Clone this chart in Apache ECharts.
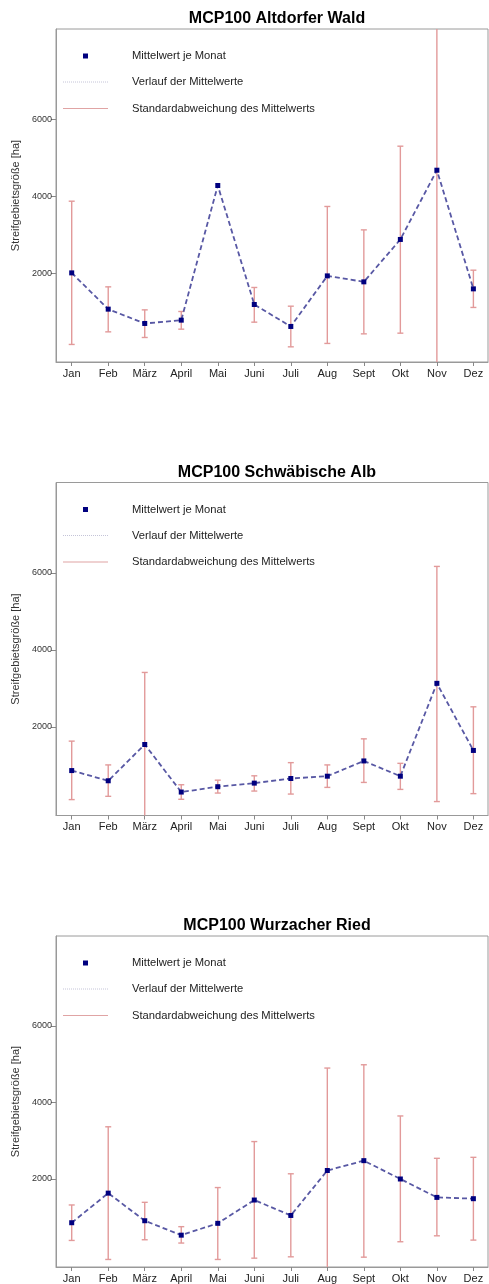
<!DOCTYPE html>
<html>
<head>
<meta charset="utf-8">
<script src="https://cdn.jsdelivr.net/npm/echarts@6/dist/echarts.min.js"></script>
<style>
  html, body { margin: 0; padding: 0; background: #fff; }
  #chart { width: 489px; height: 1284px; }
</style>
</head>
<body>
<div id="chart"></div>
<script>
const months = ['Jan', 'Feb', 'März', 'April', 'Mai', 'Juni', 'Juli', 'Aug', 'Sept', 'Okt', 'Nov', 'Dez']
const titles = ['MCP100 Altdorfer Wald', 'MCP100 Schwäbische Alb', 'MCP100 Wurzacher Ried']
const yTicks = [2000, 4000, 6000]

// Altdorfer Wald
const altdorfMean = [2015, 1073, 701, 787, 4285, 1194, 623, 1937, 1782, 2883, 4682, 1600]
const altdorfLow = [156, 483, 337, 553, null, 735, 94, 182, 431, 449, -720, 1117]
const altdorfHigh = [3877, 1652, 1054, 1012, null, 1636, 1150, 3740, 3132, 5306, 10080, 2085]
// Schwäbische Alb
const albMean = [867, 602, 1545, 309, 448, 541, 661, 721, 1117, 721, 3133, 1390]
const albLow = [113, 198, -330, 121, 283, 335, 257, 430, 559, 378, 62, 268]
const albHigh = [1632, 1014, 3416, 499, 618, 731, 1073, 1014, 1691, 1055, 6170, 2523]
// Wurzacher Ried
const riedMean = [857, 1630, 909, 532, 841, 1450, 1047, 2222, 2479, 2000, 1519, 1485]
const riedLow = [394, -103, 412, 326, -103, -69, -34, -455, -43, 360, 515, 403]
const riedHigh = [1321, 3364, 1390, 754, 1776, 2978, 2136, 4899, 4985, 3647, 2540, 2566]

const panels = [
  { mean: altdorfMean, low: altdorfLow, high: altdorfHigh },
  { mean: albMean, low: albLow, high: albHigh },
  { mean: riedMean, low: riedLow, high: riedHigh }
]

const gridTops = [29, 482.5, 936]
const font = '"Liberation Sans", Arial, sans-serif'
const monthPos = months.map((m, i) => i + 1)
const errColor = '#e29a9a'

const mychart = echarts.init(document.getElementById('chart'))

const renderErr = (params, api) => {
  const x = api.value(0)
  const lo = api.coord([x, api.value(1)])
  const hi = api.coord([x, api.value(2)])
  const cs = params.coordSys
  const top = cs.y
  const bot = cs.y + cs.height
  const style = { stroke: errColor, lineWidth: 1.4 }
  const children = [
    { type: 'line', shape: { x1: lo[0], y1: Math.min(lo[1], bot), x2: lo[0], y2: Math.max(hi[1], top) }, style }
  ]
  if (hi[1] >= top) children.push({ type: 'line', shape: { x1: hi[0] - 3, y1: hi[1], x2: hi[0] + 3, y2: hi[1] }, style })
  if (lo[1] <= bot) children.push({ type: 'line', shape: { x1: lo[0] - 3, y1: lo[1], x2: lo[0] + 3, y2: lo[1] }, style })
  return { type: 'group', children }
}

const grid = []
const xAxis = []
const yAxis = []
const title = []
const series = []
const graphic = []

panels.forEach((p, k) => {
  const T = gridTops[k]
  grid.push({ left: 56, right: 1, top: T, height: 333, show: true, borderColor: '#9a9a9a', borderWidth: 1 })
  title.push({
    text: titles[k],
    left: 272,
    textAlign: 'center',
    top: T - 23,
    textStyle: { fontFamily: font, fontSize: 16, fontWeight: 'bold', color: '#000' }
  })
  xAxis.push({
    gridIndex: k,
    type: 'value',
    min: 0.57,
    max: 12.4,
    splitLine: { show: false },
    axisLine: { show: true, onZero: false, lineStyle: { color: '#999' } },
    axisTick: { show: true, length: 4, customValues: monthPos, lineStyle: { color: '#888' } },
    axisLabel: {
      customValues: monthPos,
      formatter: (v) => months[Math.round(v) - 1],
      fontFamily: font,
      fontSize: 11,
      color: '#222',
      margin: 6
    }
  })
  yAxis.push({
    gridIndex: k,
    type: 'value',
    min: -300,
    max: 8350,
    name: 'Streifgebietsgröße [ha]',
    nameLocation: 'middle',
    nameGap: 34,
    nameTextStyle: { fontFamily: font, fontSize: 11, color: '#333' },
    splitLine: { show: false },
    axisLine: { show: true, onZero: false, lineStyle: { color: '#999' } },
    axisTick: { show: true, length: 5, customValues: yTicks, lineStyle: { color: '#888' } },
    axisLabel: {
      customValues: yTicks,
      formatter: (v) => String(v),
      fontFamily: font,
      fontSize: 9,
      color: '#333',
      margin: 4
    }
  })

  const errData = []
  p.mean.forEach((v, i) => {
    if (p.low[i] != null) errData.push([i + 1, p.low[i], p.high[i]])
  })
  series.push({
    type: 'custom',
    xAxisIndex: k,
    yAxisIndex: k,
    renderItem: renderErr,
    data: errData,
    z: 2
  })
  series.push({
    type: 'line',
    xAxisIndex: k,
    yAxisIndex: k,
    symbol: 'rect',
    symbolSize: 5,
    showAllSymbol: true,
    itemStyle: { color: '#00007f' },
    lineStyle: { color: '#5858a4', width: 1.8, type: [5, 3] },
    data: p.mean.map((v, i) => [i + 1, v]),
    z: 3
  })

  // legend block inside the plot
  const txt = { fontFamily: font, fontSize: 11.2, fill: '#222', verticalAlign: 'middle' }
  graphic.push(
    { type: 'rect', shape: { x: 83, y: T + 24.5, width: 5, height: 5 }, style: { fill: '#00007f' } },
    { type: 'text', x: 132, y: T + 27, style: Object.assign({ text: 'Mittelwert je Monat' }, txt) },
    { type: 'line', shape: { x1: 63, y1: T + 53, x2: 108, y2: T + 53 }, style: { stroke: '#c4c4d8', lineWidth: 1, lineDash: [1, 1] } },
    { type: 'text', x: 132, y: T + 53, style: Object.assign({ text: 'Verlauf der Mittelwerte' }, txt) },
    { type: 'line', shape: { x1: 63, y1: T + 79.5, x2: 108, y2: T + 79.5 }, style: { stroke: '#e0a4a4', lineWidth: 1.2 } },
    { type: 'text', x: 132, y: T + 79.5, style: Object.assign({ text: 'Standardabweichung des Mittelwerts' }, txt) }
  )
})

const option = { animation: false, title, grid, xAxis, yAxis, series, graphic }
option && mychart.setOption(option)
</script>
</body>
</html>
